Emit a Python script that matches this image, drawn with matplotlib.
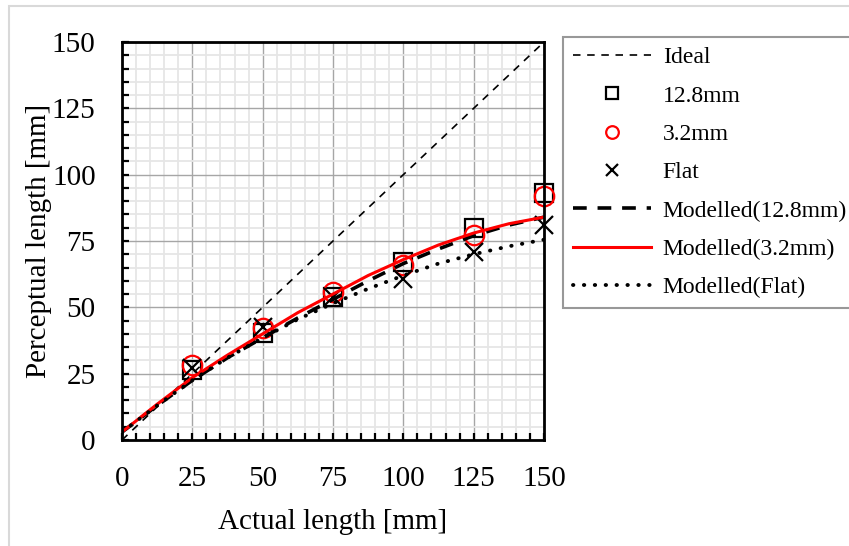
import matplotlib
matplotlib.use('Agg')
import matplotlib.pyplot as plt
from matplotlib.patches import Rectangle
from matplotlib.ticker import MultipleLocator

plt.rcParams['font.family'] = ['Liberation Serif', 'DejaVu Serif']

# ---- data ----
ideal_x = [0, 150]
ideal_y = [0, 150]

meas_x = [25, 50, 75, 100, 125, 150]
sq_128 = [26.4, 40.5, 54.0, 67.2, 79.8, 93.0]
circ_32 = [28.2, 42.2, 55.8, 66.0, 77.3, 92.0]
cross_flat = [27.0, 42.7, 54.0, 60.6, 71.0, 81.0]

model_x = [0, 12.5, 25, 37.5, 50, 62.5, 75, 87.5, 100, 112.5, 125, 137.5, 150]
model_128 = [3, 13, 22.5, 31, 38.5, 46, 53, 60, 66.5, 72, 77, 81, 84]
model_32 = [3, 13.5, 23.5, 32, 40, 48, 55, 62, 68, 73.5, 78, 81.5, 84]
model_flat = [3, 13, 22.5, 31, 38.5, 45.5, 51.5, 57, 62, 66.5, 70, 73, 75.5]

W, H = 849, 546
fig = plt.figure(figsize=(W / 100, H / 100), dpi=100)

# light chart-area frame
fig.patches.append(Rectangle((9 / W, -0.1), 1.2, 1 - 6 / H + 0.1,
                             transform=fig.transFigure, fill=False,
                             edgecolor='#d9d9d9', linewidth=1.5))

ax = fig.add_axes([122 / W, 1 - 440 / H, 422 / W, 398 / H])

l_ideal, = ax.plot(ideal_x, ideal_y, color='black', lw=1.2,
                   dashes=(4.5, 4), label='Ideal')
l_sq, = ax.plot(meas_x, sq_128, ls='none', marker='s', ms=12.5,
                mfc='none', mec='black', mew=1.6, label='12.8mm',
                clip_on=False)
l_ci, = ax.plot(meas_x, circ_32, ls='none', marker='o', ms=14,
                mfc='none', mec='red', mew=1.6, label='3.2mm',
                clip_on=False)
l_x, = ax.plot(meas_x, cross_flat, ls='none', marker='x', ms=13,
               mec='black', mew=1.6, label='Flat', clip_on=False)
l_m128, = ax.plot(model_x, model_128, color='black', lw=2.6,
                  dashes=(3.8, 3.0), label='Modelled(12.8mm)')
l_m32, = ax.plot(model_x, model_32, color='red', lw=2.2,
                 label='Modelled(3.2mm)')
l_mf, = ax.plot(model_x, model_flat, color='black', lw=2.8,
                dashes=(0.1, 2.7), dash_capstyle='round',
                label='Modelled(Flat)')

ax.set_xlim(0, 150)
ax.set_ylim(0, 150)
ax.xaxis.set_major_locator(MultipleLocator(25))
ax.yaxis.set_major_locator(MultipleLocator(25))
ax.xaxis.set_minor_locator(MultipleLocator(5))
ax.yaxis.set_minor_locator(MultipleLocator(5))
ax.grid(which='minor', color='#e6e6e6', lw=1.3, zorder=0)
ax.grid(which='major', color='#a6a6a6', lw=1.0, zorder=0)
ax.set_axisbelow(True)
for s in ax.spines.values():
    s.set_linewidth(2.0)
    s.set_color('black')

ax.tick_params(which='both', direction='in', length=5, width=1.6,
               top=False, right=False, labelsize=21)
ax.tick_params(axis='x', which='major', pad=19)
ax.tick_params(axis='y', which='major', pad=19)

ax.set_xlabel('Actual length [mm]', fontsize=21, labelpad=12)
ax.set_ylabel('Perceptual length [mm]', fontsize=21, labelpad=0)

leg = fig.legend(handles=[l_ideal, l_sq, l_ci, l_x, l_m128, l_m32, l_mf],
                 loc='upper left', bbox_to_anchor=(563 / W, 1 - 37 / H),
                 fontsize=17, frameon=True, fancybox=False,
                 edgecolor='#7f7f7f', handlelength=3.3, handletextpad=0.5,
                 labelspacing=0.71, markerscale=0.65, borderpad=0.42,
                 borderaxespad=0)
leg.get_frame().set_linewidth(1.5)

fig.savefig('out.png', dpi=100, facecolor='white')
